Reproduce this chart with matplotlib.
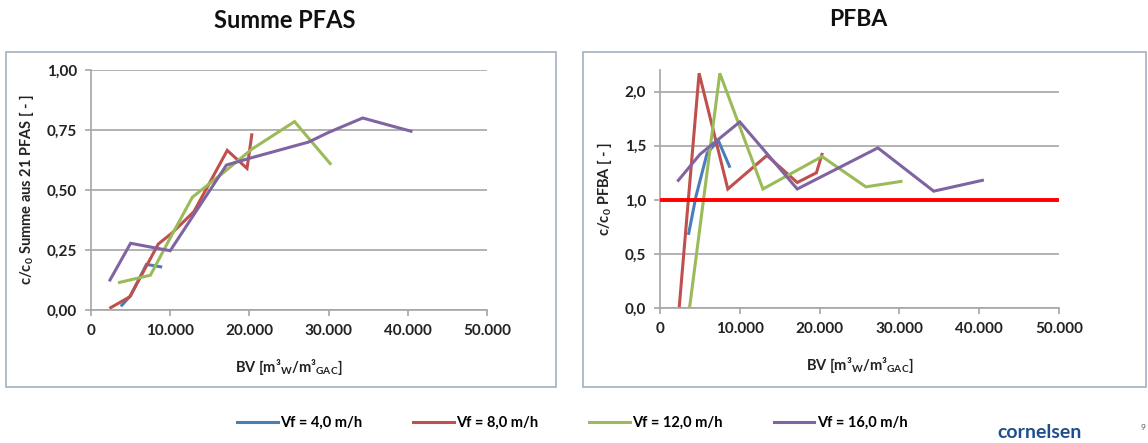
#!/usr/bin/env python3
"""Breakthrough curves: Summe PFAS and PFBA vs. bed volumes."""

import matplotlib
matplotlib.use("Agg")
import matplotlib.pyplot as plt
from matplotlib.patches import Rectangle

plt.rcParams["font.family"] = ["Lato", "DejaVu Sans"]
plt.rcParams["mathtext.fontset"] = "custom"
plt.rcParams["mathtext.rm"] = "Lato"
plt.rcParams["mathtext.bf"] = "Lato:bold"

series_labels = ["Vf = 4,0 m/h", "Vf = 8,0 m/h", "Vf = 12,0 m/h", "Vf = 16,0 m/h"]
series_colors = ["#4A7EBB", "#C0504D", "#9BBB59", "#8064A2"]

# Summe PFAS (c/c0)
pfas_bv_4 = [3900, 5000, 7000, 8800]
pfas_c_4 = [0.02, 0.06, 0.19, 0.18]
pfas_bv_8 = [2500, 4900, 8500, 10200, 13000, 17200, 19700, 20300]
pfas_c_8 = [0.01, 0.055, 0.275, 0.32, 0.41, 0.665, 0.59, 0.73]
pfas_bv_12 = [3600, 7500, 10000, 12800, 17000, 20300, 25700, 30200]
pfas_c_12 = [0.115, 0.145, 0.30, 0.47, 0.58, 0.67, 0.785, 0.61]
pfas_bv_16 = [2400, 5000, 10000, 17100, 20000, 27500, 30000, 34300, 40400]
pfas_c_16 = [0.125, 0.278, 0.247, 0.604, 0.632, 0.70, 0.74, 0.80, 0.745]

# PFBA (c/c0)
pfba_bv_4 = [3600, 4500, 5900, 7300, 8700]
pfba_c_4 = [0.69, 1.03, 1.43, 1.55, 1.31]
pfba_bv_8 = [2400, 4900, 8500, 13400, 17200, 19600, 20300]
pfba_c_8 = [0.0, 2.17, 1.10, 1.41, 1.16, 1.25, 1.42]
pfba_bv_12 = [3700, 7500, 12900, 20300, 25800, 30200]
pfba_c_12 = [0.0, 2.17, 1.10, 1.40, 1.12, 1.17]
pfba_bv_16 = [2300, 5000, 10000, 17200, 27300, 34300, 40400]
pfba_c_16 = [1.18, 1.42, 1.72, 1.10, 1.48, 1.08, 1.18]

x_ticks = [0, 10000, 20000, 30000, 40000, 50000]
x_ticklabels = ["0", "10.000", "20.000", "30.000", "40.000", "50.000"]
pfas_yticks = [0.0, 0.25, 0.5, 0.75, 1.0]
pfas_yticklabels = ["0,00", "0,25", "0,50", "0,75", "1,00"]
pfba_yticks = [0.0, 0.5, 1.0, 1.5, 2.0]
pfba_yticklabels = ["0,0", "0,5", "1,0", "1,5", "2,0"]
pfba_limit = 1.0

W, H = 1148, 443
fig = plt.figure(figsize=(W / 100, H / 100), dpi=100)


def px_axes(x0, y0, x1, y1):
    return fig.add_axes([x0 / W, 1 - y1 / H, (x1 - x0) / W, (y1 - y0) / H])


def style_axes(ax, yticks, yticklabels, ylim, ylabel):
    ax.set_xlim(0, 50000)
    ax.set_ylim(*ylim)
    ax.set_xticks(x_ticks)
    ax.set_xticklabels(x_ticklabels)
    ax.set_yticks(yticks)
    ax.set_yticklabels(yticklabels)
    ax.grid(axis="y", color="#A6A6A6", linewidth=1.2)
    ax.set_axisbelow(True)
    for side in ("top", "right"):
        ax.spines[side].set_visible(False)
    for side in ("left", "bottom"):
        ax.spines[side].set_color("#A6A6A6")
        ax.spines[side].set_linewidth(1.2)
    ax.tick_params(direction="out", length=4, color="#A6A6A6", width=1.2,
                   labelsize=11, labelcolor="#222222", pad=6)
    for lbl in ax.get_xticklabels() + ax.get_yticklabels():
        lbl.set_fontweight("bold")
    ax.set_xlabel(r"BV [m³$_\mathbf{W}$/m³$_\mathbf{GAC}$]", fontsize=10.5,
                  fontweight="bold", color="#222222", labelpad=14)
    ax.set_ylabel(ylabel, fontsize=10.5, fontweight="bold", color="#222222", labelpad=8)


# frames around each chart
for (x0, y0, x1, y1) in [(6, 52, 556, 387), (583, 52, 1146, 387)]:
    fig.patches.append(Rectangle((x0 / W, 1 - y1 / H), (x1 - x0) / W, (y1 - y0) / H,
                                 transform=fig.transFigure, fill=False,
                                 edgecolor="#9FB0C2", linewidth=1.2))

ax1 = px_axes(91, 70, 487, 310)
pfas = [(pfas_bv_4, pfas_c_4), (pfas_bv_8, pfas_c_8),
        (pfas_bv_12, pfas_c_12), (pfas_bv_16, pfas_c_16)]
for (bv, c), col, lab in zip(pfas, series_colors, series_labels):
    ax1.plot(bv, c, color=col, linewidth=2.2, label=lab, solid_joinstyle="miter")
style_axes(ax1, pfas_yticks, pfas_yticklabels, (0, 1.0),
           r"c/c$_\mathbf{0}$ Summe aus 21 PFAS [ - ]")

ax2 = px_axes(660, 70, 1059, 308)
pfba = [(pfba_bv_4, pfba_c_4), (pfba_bv_8, pfba_c_8),
        (pfba_bv_12, pfba_c_12), (pfba_bv_16, pfba_c_16)]
for (bv, c), col in zip(pfba, series_colors):
    ax2.plot(bv, c, color=col, linewidth=2.2, solid_joinstyle="miter")
ax2.axhline(pfba_limit, xmin=0, xmax=0.995, color="#FF0000", linewidth=2.8, zorder=3)
style_axes(ax2, pfba_yticks, pfba_yticklabels, (0, 2.2), r"c/c$_\mathbf{0}$ PFBA [ - ]")

fig.text(285 / W, 1 - 20 / H, "Summe PFAS", ha="center", va="center",
         fontsize=17, fontweight="bold", color="#111111")
fig.text(858 / W, 1 - 20 / H, "PFBA", ha="center", va="center",
         fontsize=16.5, fontweight="bold", color="#111111")

handles, labels = ax1.get_legend_handles_labels()
fig.legend(handles, labels, loc="center", bbox_to_anchor=(572 / W, 1 - 423 / H),
           ncol=4, frameon=False, handlelength=2.8,
           handletextpad=0.15, columnspacing=3.5, prop={"weight": "bold", "size": 10.5})

fig.text(1040 / W, 1 - 424 / H, "cornelsen", ha="center", va="top",
         fontsize=14, fontweight="bold", color="#1F4E8C")
fig.text(1143 / W, 1 - 428 / H, "9", ha="center", va="center",
         fontsize=6, color="#555555")

fig.savefig("out.png", dpi=100)
